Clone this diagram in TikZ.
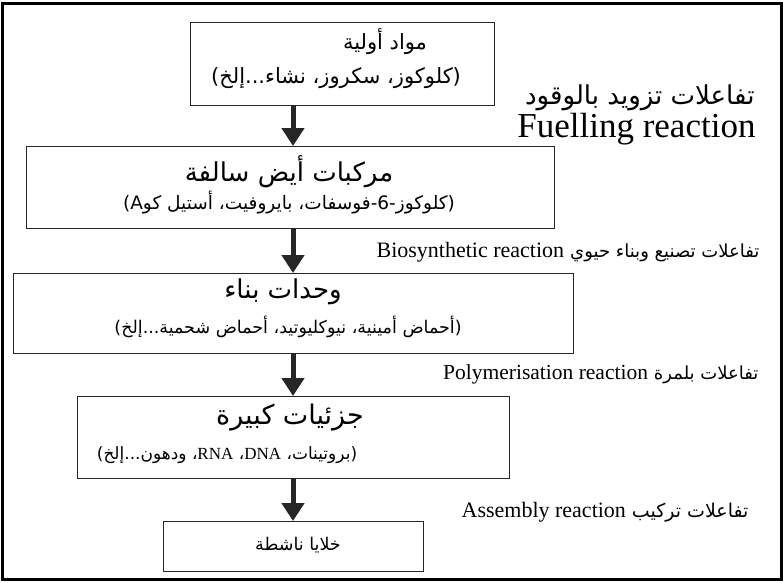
\documentclass[tikz,border=0pt]{standalone}
\usepackage{fontspec}
\setmainfont{Liberation Serif}
\newfontfamily\arabicfont[Script=Arabic]{DejaVu Sans}
\TeXXeTstate=1
\usetikzlibrary{arrows.meta}

% Arabic text, right to left
\newcommand{\artext}[1]{{\arabicfont\beginR #1\endR}}
\newcommand{\fsz}[1]{\fontsize{#1}{#1}\selectfont}

\begin{document}
\begin{tikzpicture}[x=1pt,y=-1pt,
    box/.style={draw=black!85, line width=1.3pt, inner sep=0pt, anchor=north west},
    txt/.style={inner sep=0pt, font=\fsz{#1}},
    flow/.style={-{Triangle[width=22pt,length=18pt]}, line width=5pt, black!85},
    tag/.style={anchor=base east, font=\fsz{22}}]
    \useasboundingbox (0,0) rectangle (783,582);
    \draw[line width=3pt] (2,3) rectangle (781,579);

    % les boites de la chaine
    \node[box, minimum width=304pt, minimum height=83pt] (mat) at (190,22) {};
    \node[box, minimum width=528pt, minimum height=82pt] (pre) at (26,146) {};
    \node[box, minimum width=560pt, minimum height=80pt] (blk) at (13,273) {};
    \node[box, minimum width=432pt, minimum height=82pt] (mac) at (77,396) {};
    \node[box, minimum width=260pt, minimum height=50pt] (cel) at (163,521) {};

    % textes des boites
    \node[txt=21] (mat-t) at (385,42) {\artext{مواد أولية}};
    \node[txt=21] (mat-s) at (336,78) {\artext{(كلوكوز، سكروز، نشاء...إلخ)}};
    \node[txt=26] (pre-t) at (289,172) {\artext{مركبات أيض سالفة}};
    \node[txt=18.5] (pre-s) at (289,203) {\artext{(كلوكوز-6-فوسفات، بايروفيت، أستيل كو\beginL A\endL)}};
    \node[txt=26] (blk-t) at (283,292) {\artext{وحدات بناء}};
    \node[txt=17.5] (blk-s) at (288,327) {\artext{(أحماض أمينية، نيوكليوتيد، أحماض شحمية...إلخ)}};
    \node[txt=27] (mac-t) at (290,418) {\artext{جزئيات كبيرة}};
    \node[txt=17] (mac-s) at (227,455) {\artext{(بروتينات، \beginL{\rmfamily DNA}\endL، \beginL{\rmfamily RNA}\endL، ودهون...إلخ)}};
    \node[txt=17.5] (cel-t) at (298,545) {\artext{خلايا ناشطة}};

    % fleches
    \coordinate (axe) at (293,0);
    \draw[flow] (mat.south -| axe) -- (pre.north -| axe);
    \draw[flow] (pre.south -| axe) -- (blk.north -| axe);
    \draw[flow] (blk.south -| axe) -- (mac.north -| axe);
    \draw[flow] (mac.south -| axe) -- (cel.north -| axe);

    % types de reactions
    \node[tag, font=\fsz{26}] (fuel) at (758,104) {\artext{تفاعلات تزويد بالوقود}};
    \node[tag, font=\fsz{35}] (fuelen) at (759,137) {Fuelling reaction};
    \node[tag] (bio) at (763,257) {Biosynthetic reaction\hspace{6pt}\fsz{18}\artext{تفاعلات تصنيع وبناء حيوي}};
    \node[tag, font=\fsz{21.5}] (poly) at (762,379) {Polymerisation reaction\hspace{6pt}\fsz{18}\artext{تفاعلات بلمرة}};
    \node[tag] (ass) at (752,517) {Assembly reaction\hspace{6pt}\fsz{19}\artext{تفاعلات تركيب}};
\end{tikzpicture}
\end{document}
